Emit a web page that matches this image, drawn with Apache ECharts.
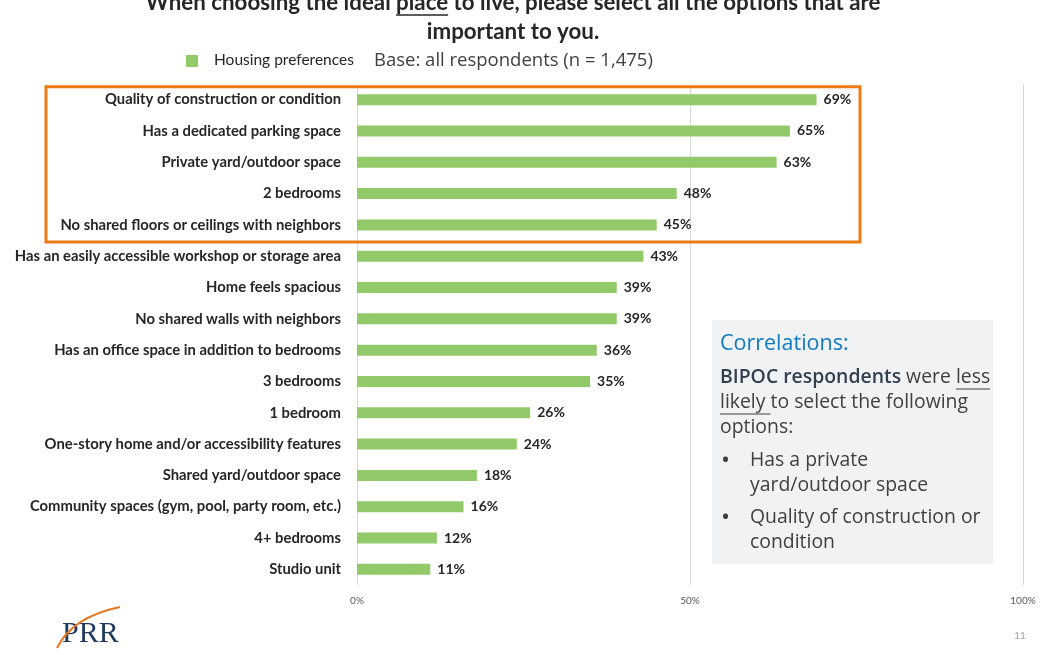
<!DOCTYPE html>
<html>
<head>
<meta charset="utf-8">
<script src="https://cdn.jsdelivr.net/npm/echarts@6/dist/echarts.min.js"></script>
<style>
  html, body { margin: 0; padding: 0; background: #ffffff; }
  #chart { width: 1045px; height: 655px; }
</style>
</head>
<body>
<div id="chart"></div>
<script>
// Housing preference options, most selected first
const categories = [
  'Quality of construction or condition',
  'Has a dedicated parking space',
  'Private yard/outdoor space',
  '2 bedrooms',
  'No shared floors or ceilings with neighbors',
  'Has an easily accessible workshop or storage area',
  'Home feels spacious',
  'No shared walls with neighbors',
  'Has an office space in addition to bedrooms',
  '3 bedrooms',
  '1 bedroom',
  'One-story home and/or accessibility features',
  'Shared yard/outdoor space',
  'Community spaces (gym, pool, party room, etc.)',
  '4+ bedrooms',
  'Studio unit'
];
// Share of respondents selecting each option (%)
const values = [69, 65, 63, 48, 45, 43, 39, 39, 36, 35, 26, 24, 18, 16, 12, 11];
// Value axis ticks (%)
const axisMin = 0;
const axisMax = 100;
const axisStep = 50;
// Number of top options framed as the leading group
const highlightCount = 5;

const titleLine1Pre = 'When choosing the ideal ';
const titleLine1Key = 'place';
const titleLine1Post = ' to live, please select all the options that are';
const titleLine2 = 'important to you.';
const legendName = 'Housing preferences';
const baseNote = 'Base: all respondents (n = 1,475)';

const chart = echarts.init(document.getElementById('chart'), null, { renderer: 'canvas' });

const DARK = '#262626';
const GREEN = '#92CA6A';
const ORANGE = '#EE7A14';
const NOTE = '#404040';

function textWidth(str, font) {
  const c = document.createElement('canvas').getContext('2d');
  c.font = font;
  return c.measureText(str).width;
}

chart.setOption({
  animation: false,
  backgroundColor: '#ffffff',
  grid: { left: 357, right: 22, top: 84, bottom: 70, containLabel: false },
  xAxis: {
    type: 'value',
    min: axisMin,
    max: axisMax,
    interval: axisStep,
    axisLine: { show: false },
    axisTick: { show: false },
    axisLabel: {
      formatter: '{value}%',
      color: '#595959',
      fontFamily: 'Lato',
      fontSize: 10,
      margin: 11
    },
    splitLine: { show: true, lineStyle: { color: '#D9D9D9', width: 1 } }
  },
  yAxis: {
    type: 'category',
    data: categories,
    inverse: true,
    axisLine: { show: false },
    axisTick: { show: false },
    axisLabel: {
      color: DARK,
      fontFamily: 'Lato',
      fontWeight: 'bold',
      fontSize: 14.8,
      margin: 16
    }
  },
  series: [{
    type: 'bar',
    name: legendName,
    data: values,
    barWidth: 11,
    itemStyle: { color: GREEN },
    label: {
      show: true,
      position: 'right',
      distance: 7,
      formatter: '{c}%',
      color: DARK,
      fontFamily: 'Lato',
      fontWeight: 'bold',
      fontSize: 14
    }
  }]
});

// Frame around the leading group of options, placed from the category axis
const yFirst = chart.convertToPixel({ yAxisIndex: 0 }, categories[0]);
const yLast = chart.convertToPixel({ yAxisIndex: 0 }, categories[highlightCount - 1]);
const frameTop = yFirst - 13;
const frameBottom = yLast + 17;

// Title with the key word underlined
const titleFont = 'bold 22.3px Lato';
const line1 = titleLine1Pre + titleLine1Key + titleLine1Post;
const line1W = textWidth(line1, titleFont);
const titleCx = 513;
const line1X = titleCx - line1W / 2;
const keyX = line1X + textWidth(titleLine1Pre, titleFont);
const keyW = textWidth(titleLine1Key, titleFont);

// Correlations note underlines
const noteFont = '19.4px "Open Sans"';
const noteBoldFont = '600 19.4px "Open Sans"';
const noteX = 720;
const lessX = noteX + textWidth('BIPOC respondents', noteBoldFont) + textWidth(' were ', noteFont);
const lessW = textWidth('less', noteFont);
const likelyW = textWidth('likely ', noteFont);

chart.setOption({
  graphic: [
    // title
    { type: 'text', x: line1X, y: 3, style: { text: line1, font: titleFont, fill: DARK, verticalAlign: 'middle' } },
    { type: 'line', shape: { x1: keyX, y1: 15, x2: keyX + keyW, y2: 15 }, style: { stroke: DARK, lineWidth: 1.5 } },
    { type: 'text', x: titleCx, y: 32, style: { text: titleLine2, font: titleFont, fill: DARK, align: 'center', verticalAlign: 'middle' } },
    // legend and base
    { type: 'rect', shape: { x: 186, y: 55, width: 12, height: 12 }, style: { fill: GREEN } },
    { type: 'text', x: 214, y: 60, style: { text: legendName, font: '15.5px Lato', fill: DARK, verticalAlign: 'middle' } },
    { type: 'text', x: 374, y: 61, style: { text: baseNote, font: '18.5px "Open Sans"', fill: NOTE, verticalAlign: 'middle' } },
    // highlight frame
    { type: 'rect', z: 10, shape: { x: 46, y: frameTop, width: 814, height: frameBottom - frameTop }, style: { fill: 'none', stroke: ORANGE, lineWidth: 3 } },
    // correlations note
    { type: 'rect', shape: { x: 712, y: 320, width: 281, height: 244 }, style: { fill: '#F1F2F4' } },
    { type: 'text', x: noteX, y: 344, style: { text: 'Correlations:', font: '21.5px "Open Sans"', fill: '#1079C0', verticalAlign: 'middle' } },
    { type: 'text', x: noteX, y: 377, style: {
        text: '{b|BIPOC respondents}{n| were less}', verticalAlign: 'middle',
        rich: { b: { font: noteBoldFont, fill: '#333F4F' }, n: { font: noteFont, fill: NOTE } } } },
    { type: 'line', shape: { x1: lessX, y1: 389, x2: lessX + lessW, y2: 389 }, style: { stroke: NOTE, lineWidth: 1 } },
    { type: 'text', x: noteX, y: 402, style: { text: 'likely to select the following', font: noteFont, fill: NOTE, verticalAlign: 'middle' } },
    { type: 'line', shape: { x1: noteX, y1: 414, x2: noteX + likelyW, y2: 414 }, style: { stroke: NOTE, lineWidth: 1 } },
    { type: 'text', x: noteX, y: 427, style: { text: 'options:', font: noteFont, fill: NOTE, verticalAlign: 'middle' } },
    { type: 'text', x: 721, y: 461, style: { text: '•', font: '24px "Open Sans"', fill: NOTE, verticalAlign: 'middle' } },
    { type: 'text', x: 750, y: 460, style: { text: 'Has a private', font: noteFont, fill: NOTE, verticalAlign: 'middle' } },
    { type: 'text', x: 750, y: 485, style: { text: 'yard/outdoor space', font: noteFont, fill: NOTE, verticalAlign: 'middle' } },
    { type: 'text', x: 721, y: 518, style: { text: '•', font: '24px "Open Sans"', fill: NOTE, verticalAlign: 'middle' } },
    { type: 'text', x: 750, y: 517, style: { text: 'Quality of construction or', font: noteFont, fill: NOTE, verticalAlign: 'middle' } },
    { type: 'text', x: 750, y: 542, style: { text: 'condition', font: noteFont, fill: NOTE, verticalAlign: 'middle' } },
    // page number
    { type: 'text', x: 1020, y: 636, style: { text: '11', font: '10px Lato', fill: '#A6A6A6', align: 'center', verticalAlign: 'middle' } },
    // logo
    { type: 'text', x: 62, y: 649, style: { text: 'PRR', font: '30px "Liberation Serif"', fill: '#1F3A5F', verticalAlign: 'bottom' } },
    { type: 'bezierCurve', z: 5, shape: { x1: 57, y1: 648, cpx1: 72, cpy1: 617, x2: 120, y2: 607 }, style: { stroke: '#E87722', lineWidth: 2, fill: 'none' } }
  ]
});
</script>
</body>
</html>
